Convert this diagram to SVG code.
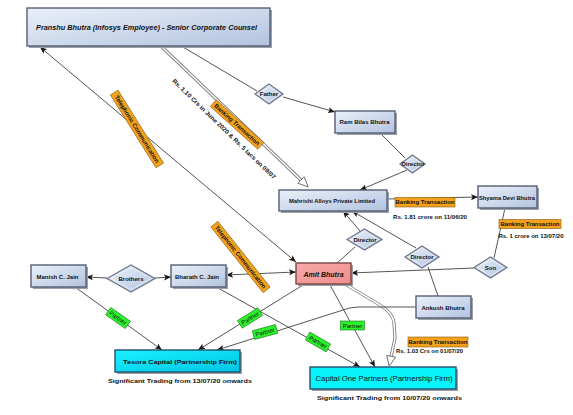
<svg xmlns="http://www.w3.org/2000/svg" width="573" height="415" viewBox="0 0 573 415">
<style>
text{font-family:"Liberation Sans",Arial,sans-serif;fill:#111;text-anchor:middle}
.n{font-size:6px;font-weight:bold}
.ni{font-size:7px;font-weight:bold;font-style:italic}
.c{fill:none;stroke:#2a2a2a;stroke-width:0.8}
.box{fill:url(#gBox);stroke:#565f72;stroke-width:1.4}
.sh{fill:#9aa0aa}
.dia{fill:url(#gDia);stroke:#6e788a;stroke-width:1.3}
.diai{fill:none;stroke:#f4f7fc;stroke-width:0.6}
.or{fill:#f4a11c;stroke:#8a5a10;stroke-width:0.6}
.gr{fill:#2bf02b;stroke:#1a7a1a;stroke-width:0.6}
.lt{font-size:6px;font-weight:bold}
.pt{font-size:6px}
.dbo{fill:none;stroke:#7a7a7a;stroke-width:3.2}
.dbi{fill:none;stroke:#fff;stroke-width:1.5}
</style>
<defs>
<linearGradient id="gBox" x1="0" y1="0" x2="1" y2="1">
<stop offset="0" stop-color="#eaf0f9"/><stop offset="1" stop-color="#b2c3df"/>
</linearGradient>
<linearGradient id="gDia" x1="0" y1="0" x2="1" y2="1">
<stop offset="0" stop-color="#eef2fa"/><stop offset="1" stop-color="#b0c2de"/>
</linearGradient>
<linearGradient id="gCyan" x1="0" y1="0" x2="1" y2="1">
<stop offset="0" stop-color="#19f2ff"/><stop offset="1" stop-color="#00c4e4"/>
</linearGradient>
<linearGradient id="gPink" x1="0" y1="0" x2="1" y2="1">
<stop offset="0" stop-color="#f9a9a9"/><stop offset="1" stop-color="#ef8e8e"/>
</linearGradient>
<marker id="arr" markerUnits="userSpaceOnUse" markerWidth="8" markerHeight="7" refX="7" refY="3" orient="auto-start-reverse">
<path d="M0,0 L7,3 L0,6 L1.5,3 z" fill="#1a1a1a"/>
</marker>
<marker id="hol" markerUnits="userSpaceOnUse" markerWidth="12" markerHeight="11" refX="0.5" refY="5" orient="auto" overflow="visible">
<path d="M0.5,0.5 L10.5,5 L0.5,9.5 z" fill="#fff" stroke="#6a6a6a" stroke-width="0.9"/>
</marker>
</defs>

<g id="connectors">
<!-- double banking lines -->
<path class="dbo" d="M162,47 L301,180"/>
<path class="dbi" d="M162,47 L301,180" marker-end="url(#hol)"/>
<path class="dbo" d="M345,284 L380,305 Q393,313 394,323 L395,338 L391.2,356.3"/>
<path class="dbi" d="M345,284 L380,305 Q393,313 394,323 L395,338 L391.2,356.3" marker-end="url(#hol)"/>

<path class="c" d="M40,47 L296,262" marker-start="url(#arr)" marker-end="url(#arr)"/>
<path class="c" d="M183,47 L257,91"/>
<path class="c" d="M283,97 L335,112" marker-end="url(#arr)"/>
<path class="c" d="M380,133 L405,158"/>
<path class="c" d="M407,170 L360,190" marker-end="url(#arr)"/>
<path class="c" d="M387,199 L478,197" marker-end="url(#arr)"/>
<path class="c" d="M505,208 L494,258"/>
<path class="c" d="M474,268 L351,273" marker-end="url(#arr)"/>
<path class="c" d="M337,263 L355,247"/>
<path class="c" d="M360,231 L343,211" marker-end="url(#arr)"/>
<path class="c" d="M438,296 L428,267"/>
<path class="c" d="M416,248 L352,211" marker-end="url(#arr)"/>
<path class="c" d="M107,278 L86,277" marker-end="url(#arr)"/>
<path class="c" d="M155,278 L171,277" marker-end="url(#arr)"/>
<path class="c" d="M226,275 L296,272" marker-start="url(#arr)" marker-end="url(#arr)"/>
<path class="c" d="M75,287 L162,350" marker-end="url(#arr)"/>
<path class="c" d="M303,285 L198,350" marker-end="url(#arr)"/>
<path class="c" d="M416,307 L358,307 Q350,307 340,311 L217,350" marker-end="url(#arr)"/>
<path class="c" d="M218,288 L360,367" marker-end="url(#arr)"/>
<path class="c" d="M330,285 L375,367" marker-end="url(#arr)"/>

<!-- edge labels -->
<g transform="translate(137,129) rotate(58)">
<rect class="or" x="-43" y="-4.5" width="86" height="9"/>
<text class="lt" y="2.1">Telephonic Communication</text>
</g>
<g transform="translate(240.5,257) rotate(51.5)">
<rect class="or" x="-42" y="-4.5" width="84" height="9"/>
<text class="lt" y="2.1">Telephonic Communication</text>
</g>
<g transform="translate(237,124.5) rotate(42)">
<rect class="or" x="-32" y="-4.5" width="64" height="9"/>
<text class="lt" y="2.1">Banking Transaction</text>
</g>
<text class="lt" transform="translate(224,129) rotate(44)" y="2" textLength="141" lengthAdjust="spacingAndGlyphs">Rs. 1.10 Crs in June 2020 &amp; Rs. 5 lacs on 09/07</text>

<rect class="or" x="395" y="197.5" width="60" height="9.5"/>
<text class="lt" x="425" y="204.4">Banking Transaction</text>
<text class="lt" x="430" y="218.5" textLength="74" lengthAdjust="spacingAndGlyphs">Rs. 1.81 crore on 11/06/20</text>

<rect class="or" x="499" y="219.5" width="62" height="9"/>
<text class="lt" x="530" y="226.2">Banking Transaction</text>
<text class="lt" x="531" y="238" textLength="65" lengthAdjust="spacingAndGlyphs">Rs. 1 crore on 13/07/20</text>

<rect class="or" x="408" y="337" width="60" height="10"/>
<text class="lt" x="438" y="344.2">Banking Transaction</text>
<text class="lt" x="429.5" y="353" textLength="67" lengthAdjust="spacingAndGlyphs">Rs. 1.03 Crs on 01/07/20</text>

<g transform="translate(118,318) rotate(35)">
<rect class="gr" x="-12" y="-4.5" width="24" height="9"/>
<text class="pt" y="2.1">Partner</text>
</g>
<g transform="translate(250,318) rotate(-32)">
<rect class="gr" x="-12" y="-4.5" width="24" height="9"/>
<text class="pt" y="2.1">Partner</text>
</g>
<g transform="translate(265,332) rotate(-15)">
<rect class="gr" x="-12" y="-4.5" width="24" height="9"/>
<text class="pt" y="2.1">Partner</text>
</g>
<g transform="translate(318,342) rotate(30)">
<rect class="gr" x="-12" y="-4.5" width="24" height="9"/>
<text class="pt" y="2.1">Partner</text>
</g>
<g transform="translate(352.5,325.5)">
<rect class="gr" x="-12" y="-4.5" width="24" height="9"/>
<text class="pt" y="2.1">Partner</text>
</g>
</g>

<g id="pranshu">
<rect class="sh" x="29" y="10" width="243" height="38"/>
<rect class="box" x="27" y="8" width="243" height="38"/>
<text class="ni" x="146.5" y="29.8" font-size="7.4" textLength="221" lengthAdjust="spacingAndGlyphs">Pranshu Bhutra (Infosys Employee) - Senior Corporate Counsel</text>
</g>
<g id="father">
<polygon class="dia" points="255,94 269,84 283,94 269,104"/>
<polygon class="diai" points="258,94 269,86.3 280,94 269,101.7"/>
<text class="n" x="269" y="96.3">Father</text>
</g>
<g id="rambilas">
<rect class="sh" x="337" y="113" width="60" height="22"/>
<rect class="box" x="335" y="111" width="60" height="22"/>
<text class="n" x="364.5" y="124" textLength="50" lengthAdjust="spacingAndGlyphs">Ram Bilas Bhutra</text>
</g>
<g id="director1">
<polygon class="dia" points="400,164 412.5,155 425,164 412.5,173"/>
<polygon class="diai" points="403,164 412.5,157.2 422,164 412.5,170.8"/>
<text class="n" x="413" y="166.2">Director</text>
</g>
<g id="mahrishi">
<rect class="sh" x="281" y="192" width="108" height="21"/>
<rect class="box" x="279" y="190" width="108" height="21"/>
<text class="n" x="332" y="202.8" textLength="86" lengthAdjust="spacingAndGlyphs">Mahrishi Alloys Private Limited</text>
</g>
<g id="shyama">
<rect class="sh" x="480" y="188" width="59" height="22"/>
<rect class="box" x="478" y="186" width="59" height="22"/>
<text class="n" x="507" y="199.5" textLength="56" lengthAdjust="spacingAndGlyphs">Shyama Devi Bhutra</text>
</g>
<g id="director2">
<polygon class="dia" points="347,239.5 364.5,229 382,239.5 364.5,250"/>
<polygon class="diai" points="350.5,239.5 364.5,231.3 378.5,239.5 364.5,247.7"/>
<text class="n" x="365" y="241.7">Director</text>
</g>
<g id="director3">
<polygon class="dia" points="405,257 422,246 439,257 422,268"/>
<polygon class="diai" points="408.5,257 422,248.3 435.5,257 422,265.7"/>
<text class="n" x="422" y="259.2">Director</text>
</g>
<g id="son">
<polygon class="dia" points="474,267.5 490.5,257 507,267.5 490.5,278"/>
<polygon class="diai" points="477.5,267.5 490.5,259.3 503.5,267.5 490.5,275.7"/>
<text class="n" x="490.5" y="269.7">Son</text>
</g>
<g id="amit">
<rect class="sh" x="298" y="265" width="55" height="21"/>
<rect x="296" y="263" width="55" height="21" fill="url(#gPink)" stroke="#7a4646" stroke-width="1.4"/>
<text class="ni" x="323.5" y="276.5">Amit Bhutra</text>
</g>
<g id="ankush">
<rect class="sh" x="418" y="298" width="55" height="22"/>
<rect class="box" x="416" y="296" width="55" height="22"/>
<text class="n" x="443" y="309.5">Ankush Bhutra</text>
</g>
<g id="manish">
<rect class="sh" x="33" y="267" width="55" height="22"/>
<rect class="box" x="31" y="265" width="55" height="22"/>
<text class="n" x="57.5" y="278.5">Manish C. Jain</text>
</g>
<g id="brothers">
<polygon class="dia" points="107,278.5 131,265 155,278.5 131,292"/>
<polygon class="diai" points="111,278.5 131,267.3 151,278.5 131,289.7"/>
<text class="n" x="131" y="280.8" font-size="6.3">Brothers</text>
</g>
<g id="bharath">
<rect class="sh" x="173" y="267" width="55" height="22"/>
<rect class="box" x="171" y="265" width="55" height="22"/>
<text class="n" x="197" y="278.5">Bharath C. Jain</text>
</g>
<g id="tesora">
<rect class="sh" x="117" y="352" width="125" height="22"/>
<rect x="115" y="350" width="125" height="22" fill="url(#gCyan)" stroke="#24506a" stroke-width="1.4"/>
<text class="n" x="180" y="363.5" font-size="6.5" textLength="114" lengthAdjust="spacingAndGlyphs">Tesora Capital (Partnership Firm)</text>
<text class="n" x="180" y="383" font-size="6.3" textLength="144" lengthAdjust="spacingAndGlyphs">Significant Trading from 13/07/20 onwards</text>
</g>
<g id="capitalone">
<rect class="sh" x="312" y="369" width="146" height="22"/>
<rect x="310" y="367" width="146" height="22" fill="#08f4fc" stroke="#24506a" stroke-width="1.4"/>
<text x="384" y="380.5" font-size="6.6" textLength="137" lengthAdjust="spacingAndGlyphs">Capital One Partners (Partnership Firm)</text>
<text class="n" x="389.5" y="400" font-size="6.3" textLength="145" lengthAdjust="spacingAndGlyphs">Significant Trading from 10/07/20 onwards</text>
</g>
</svg>
